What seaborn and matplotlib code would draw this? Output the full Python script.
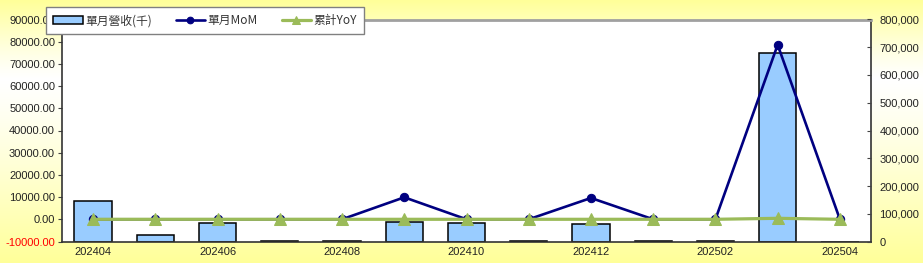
import numpy as np
import pandas as pd
import matplotlib
matplotlib.use("Agg")
import matplotlib.pyplot as plt
import matplotlib.ticker as mticker
from matplotlib.colors import LinearSegmentedColormap
import seaborn as sns

# ---- data ----
months = ["202404", "202405", "202406", "202407", "202408", "202409", "202410",
          "202411", "202412", "202501", "202502", "202503", "202504"]
revenue = [8100, -7200, -1500, -9800, -9800, -1000, -1500, -9800, -2100, -9800, -9800, 74800, -10000]
mom = [0, 0, 0, 0, 0, 9900, 0, 0, 9600, 0, 0, 78600, 0]
yoy = [0, 0, 0, 0, 0, 0, 0, 0, 0, 0, 0, 450, 0]
left_ticks = [-10000, 0, 10000, 20000, 30000, 40000, 50000, 60000, 70000, 80000, 90000]
right_ticks = [0, 100000, 200000, 300000, 400000, 500000, 600000, 700000, 800000]
labels = ["單月營收(千)", "單月MoM", "累計YoY"]
base = -10000

df = pd.DataFrame({"month": months, "revenue": revenue, "mom": mom, "yoy": yoy})
df["height"] = df["revenue"] - base

sns.set_theme(style="white")
plt.rcParams["font.family"] = ["Liberation Sans", "Noto Sans CJK TC", "DejaVu Sans"]

W, H = 923, 263
fig = plt.figure(figsize=(W / 100, H / 100), dpi=100)

# background gradient
bg = fig.add_axes([0, 0, 1, 1], zorder=-5)
t = np.linspace(0, 1, 263)
prof = np.where(t < 0.3, 1 - t / 0.3, (t - 0.3) / 0.7) ** 1.2
grad = np.tile(prof[:, None], (1, 10))
cmap = LinearSegmentedColormap.from_list("yw", ["#FFFFFF", "#FFFF99"])
bg.imshow(grad, aspect="auto", cmap=cmap, extent=[0, 1, 0, 1], vmin=0, vmax=1)
bg.set_axis_off()

left, right, top, bottom = 62, 871, 19.5, 241.5
ax = fig.add_axes([left / W, 1 - bottom / H, (right - left) / W, (bottom - top) / H])
ax.set_facecolor("white")

sns.barplot(data=df, x="month", y="height", bottom=base, color="#99CCFF",
            edgecolor="black", linewidth=1.1, width=0.6, saturation=1,
            errorbar=None, ax=ax, zorder=2)
sns.lineplot(data=df, x="month", y="mom", color="#000080", linewidth=1.9, marker="o",
             markersize=6, markeredgecolor="#000080", ax=ax, zorder=3, sort=False)
sns.lineplot(data=df, x="month", y="yoy", color="#9BBB59", linewidth=2.3, marker="^",
             markersize=8, markeredgecolor="#9BBB59", ax=ax, zorder=4, sort=False)

ax.set_xlim(-0.5, len(months) - 0.5)
ax.set_ylim(left_ticks[0], left_ticks[-1])
ax.set_yticks(left_ticks)
ax.yaxis.set_major_formatter(mticker.FuncFormatter(lambda v, p: f"{v:.2f}"))
ax.set_xlabel("")
ax.set_ylabel("")
ax.set_xticks(range(len(months)))
ax.set_xticklabels([m if i % 2 == 0 else "" for i, m in enumerate(months)])
ax.set_xticks(np.arange(len(months) + 1) - 0.5, minor=True)
ax.tick_params(axis="x", which="major", length=0, labelsize=8, labelcolor="#222222", pad=4)
ax.tick_params(axis="x", which="minor", length=3, direction="in", color="#444444", width=0.8)
ax.tick_params(axis="y", length=3, direction="out", labelsize=8, labelcolor="#222222",
               color="#444444", width=0.8, pad=2, left=True)
for lbl, v in zip(ax.get_yticklabels(), left_ticks):
    if v < 0:
        lbl.set_color("#FF0000")

for s in ["left", "bottom", "right"]:
    ax.spines[s].set_color("#333333")
    ax.spines[s].set_linewidth(1.2)
ax.spines["top"].set_color("#A0A0A0")
ax.spines["top"].set_linewidth(2)

ax2 = ax.twinx()
ax2.set_ylim(right_ticks[0], right_ticks[-1])
ax2.set_yticks(right_ticks)
ax2.yaxis.set_major_formatter(mticker.FuncFormatter(lambda v, p: f"{int(v):,}"))
ax2.tick_params(axis="y", length=3, direction="in", labelsize=8, labelcolor="#222222",
                color="#444444", width=0.8, pad=6, right=True)
ax2.grid(False)
ax.grid(False)
for s in ax2.spines.values():
    s.set_visible(False)

handles = [ax.patches[0], ax.lines[0], ax.lines[1]]
leg = fig.legend(handles, labels, loc="upper left",
                 bbox_to_anchor=(46 / W, 1 - 7 / H, (364 - 46) / W, 0.0),
                 mode="expand", ncol=3, frameon=True, fancybox=False,
                 edgecolor="#808080", facecolor="white", framealpha=1,
                 handlelength=2.5, handletextpad=0.2, borderpad=0.6,
                 borderaxespad=0, columnspacing=1.2, markerscale=0.8,
                 prop={"family": ["Noto Sans CJK TC", "DejaVu Sans"], "size": 8.5})
leg.get_frame().set_linewidth(1.0)
for txt in leg.get_texts():
    txt.set_color("#333333")

fig.savefig("out.png", dpi=100)
